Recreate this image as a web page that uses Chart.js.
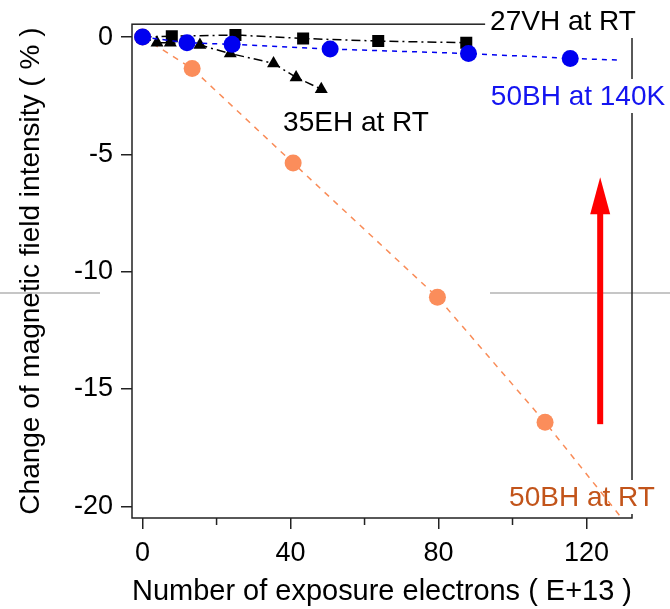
<!DOCTYPE html>
<html>
<head>
<meta charset="utf-8">
<script src="https://cdn.jsdelivr.net/npm/chart.js@4/dist/chart.umd.min.js"></script>
<style>
  html, body { margin: 0; padding: 0; background: #fff; }
</style>
</head>
<body>
<canvas id="chart" width="670" height="609"></canvas>
<script>
// axis ticks
const xTicks = [0, 40, 80, 120];
const xMinorTicks = [20, 60, 100];
const yTicks = [0, -5, -10, -15, -20];

// 50BH at 140K
const bh140kX = [0, 12.0, 24.2, 50.7, 88.1, 115.6];
const bh140kY = [0, -0.24, -0.31, -0.51, -0.70, -0.91];
const bh140kLineEnd = [129.1, -0.98];

// 27VH at RT
const vhX = [0, 7.9, 25.1, 43.4, 63.7, 87.5];
const vhY = [0, 0.04, 0.09, -0.06, -0.17, -0.24];

// 35EH at RT
const ehX = [0, 3.9, 7.5, 15.5, 23.7, 35.4, 41.5, 48.3];
const ehY = [0, -0.24, -0.24, -0.34, -0.70, -1.12, -1.72, -2.22];

// 50BH at RT
const bhRtX = [0, 13.4, 40.7, 79.7, 108.8];
const bhRtY = [0, -1.34, -5.37, -11.09, -16.42];
const bhRtLineEnd = [129.5, -20.5];

const toPoints = (xs, ys) => xs.map((x, i) => ({ x: x, y: ys[i] }));

const FONT = "'Liberation Sans', Arial, Helvetica, sans-serif";
Chart.defaults.font.family = FONT;
Chart.defaults.color = '#000';

// text labels drawn on the plot (white box behind them)
const notes = [
  { text: '27VH at RT', x: 563, y: 21, color: '#000000' },
  { text: '50BH at 140K', x: 578, y: 96, color: '#1414f0' },
  { text: '35EH at RT', x: 356, y: 122, color: '#000000' },
  { text: '50BH at RT', x: 582, y: 497, color: '#c2541a' }
];

const decor = {
  id: 'decor',
  beforeDatasetsDraw(chart) {
    const ctx = chart.ctx;
    const a = chart.chartArea;
    ctx.save();
    // faint grey line across the figure
    ctx.strokeStyle = 'rgba(160,160,160,0.6)';
    ctx.lineWidth = 2;
    ctx.beginPath();
    ctx.moveTo(0, 293); ctx.lineTo(100, 293);
    ctx.moveTo(490, 293); ctx.lineTo(670, 293);
    ctx.stroke();
    // plot frame
    ctx.strokeStyle = '#222';
    ctx.lineWidth = 1.5;
    ctx.strokeRect(a.left, a.top, a.right - a.left, a.bottom - a.top);
    // minor x ticks
    const xs = chart.scales.x;
    ctx.beginPath();
    xMinorTicks.forEach(v => {
      const px = xs.getPixelForValue(v);
      ctx.moveTo(px, a.bottom); ctx.lineTo(px, a.bottom + 7);
    });
    ctx.stroke();
    // labels
    ctx.font = '28px ' + FONT;
    ctx.textAlign = 'center';
    ctx.textBaseline = 'middle';
    notes.forEach(n => {
      const w = ctx.measureText(n.text).width;
      ctx.fillStyle = '#fff';
      ctx.fillRect(n.x - w / 2 - 5, n.y - 17, w + 10, 34);
      ctx.fillStyle = n.color;
      ctx.fillText(n.text, n.x, n.y + 1);
    });
    ctx.restore();
  },
  afterDatasetsDraw(chart) {
    // red arrow
    const ctx = chart.ctx;
    const xs = chart.scales.x, ys = chart.scales.y;
    const px = xs.getPixelForValue(123.7);
    const yBase = ys.getPixelForValue(-16.5);
    const yTip = ys.getPixelForValue(-5.97);
    ctx.save();
    ctx.fillStyle = '#ff0000';
    ctx.fillRect(px - 3, yTip + 34, 6, yBase - yTip - 34);
    ctx.beginPath();
    ctx.moveTo(px, yTip);
    ctx.lineTo(px + 10, yTip + 37);
    ctx.lineTo(px - 10, yTip + 37);
    ctx.closePath();
    ctx.fill();
    ctx.restore();
  }
};

const blue = '#0000f0';
const orange = '#fb8d5b';
const orangeLine = '#f98c58';

new Chart(document.getElementById('chart'), {
  type: 'scatter',
  data: {
    datasets: [
      {
        label: '50BH at 140K',
        data: toPoints(bh140kX, bh140kY),
        showLine: false,
        pointStyle: 'circle',
        pointRadius: 8.5,
        backgroundColor: blue,
        borderColor: blue,
        borderWidth: 0,
        order: 0
      },
      {
        label: '50BH at 140K line',
        data: toPoints(bh140kX.concat([bh140kLineEnd[0]]), bh140kY.concat([bh140kLineEnd[1]])),
        showLine: true,
        pointRadius: 0,
        borderColor: blue,
        borderWidth: 1.5,
        borderDash: [5, 5],
        order: 1
      },
      {
        label: '27VH at RT',
        data: toPoints(vhX, vhY),
        showLine: true,
        pointStyle: 'rect',
        pointRadius: 8.5,
        backgroundColor: '#000',
        borderColor: '#000',
        pointBorderWidth: 0,
        borderWidth: 1.5,
        borderDash: [9, 4, 2, 4],
        order: 2
      },
      {
        label: '35EH at RT',
        data: toPoints(ehX, ehY),
        showLine: true,
        pointStyle: 'triangle',
        pointRadius: 7.5,
        backgroundColor: '#000',
        borderColor: '#000',
        pointBorderWidth: 0,
        borderWidth: 1.5,
        borderDash: [9, 4, 2, 4],
        order: 2
      },
      {
        label: '50BH at RT',
        data: toPoints(bhRtX, bhRtY),
        showLine: false,
        pointStyle: 'circle',
        pointRadius: 8.5,
        backgroundColor: orange,
        borderColor: orange,
        borderWidth: 0,
        order: 3
      },
      {
        label: '50BH at RT line',
        data: toPoints(bhRtX.concat([bhRtLineEnd[0]]), bhRtY.concat([bhRtLineEnd[1]])),
        showLine: true,
        pointRadius: 0,
        borderColor: orangeLine,
        borderWidth: 1.5,
        borderDash: [6, 6],
        order: 4
      }
    ]
  },
  options: {
    responsive: false,
    animation: false,
    layout: { padding: { top: 24, right: 38, left: 0, bottom: 0 } },
    plugins: {
      legend: { display: false },
      tooltip: { enabled: false }
    },
    scales: {
      x: {
        type: 'linear',
        min: -2.86,
        max: 132.3,
        afterFit(scale) { scale.height = 91; },
        border: { display: false },
        grid: {
          drawOnChartArea: false,
          drawTicks: true,
          tickLength: 11,
          lineWidth: 1.5,
          color: c => (c.tick && xTicks.includes(c.tick.value)) ? '#222' : 'rgba(0,0,0,0)'
        },
        ticks: {
          stepSize: 20,
          includeBounds: false,
          maxRotation: 0,
          padding: 8,
          font: { size: 27 },
          color: '#000',
          callback: v => xTicks.includes(v) ? String(v) : ''
        },
        title: {
          display: true,
          text: 'Number of exposure electrons ( E+13 )',
          font: { size: 29 },
          color: '#000',
          padding: { top: 0, bottom: 0 }
        }
      },
      y: {
        type: 'linear',
        min: -20.5,
        max: 0.55,
        afterFit(scale) { scale.width = 132; },
        border: { display: false },
        grid: {
          drawOnChartArea: false,
          drawTicks: true,
          tickLength: 11,
          lineWidth: 1.5,
          color: '#222'
        },
        ticks: {
          stepSize: 5,
          includeBounds: false,
          padding: 8,
          font: { size: 27 },
          color: '#000',
          callback: v => yTicks.includes(v) ? String(v) : ''
        },
        title: {
          display: true,
          text: 'Change of magnetic field intensity ( % )',
          font: { size: 28 },
          color: '#000',
          padding: { top: 14, bottom: 0 }
        }
      }
    }
  },
  plugins: [decor]
});
</script>
</body>
</html>
